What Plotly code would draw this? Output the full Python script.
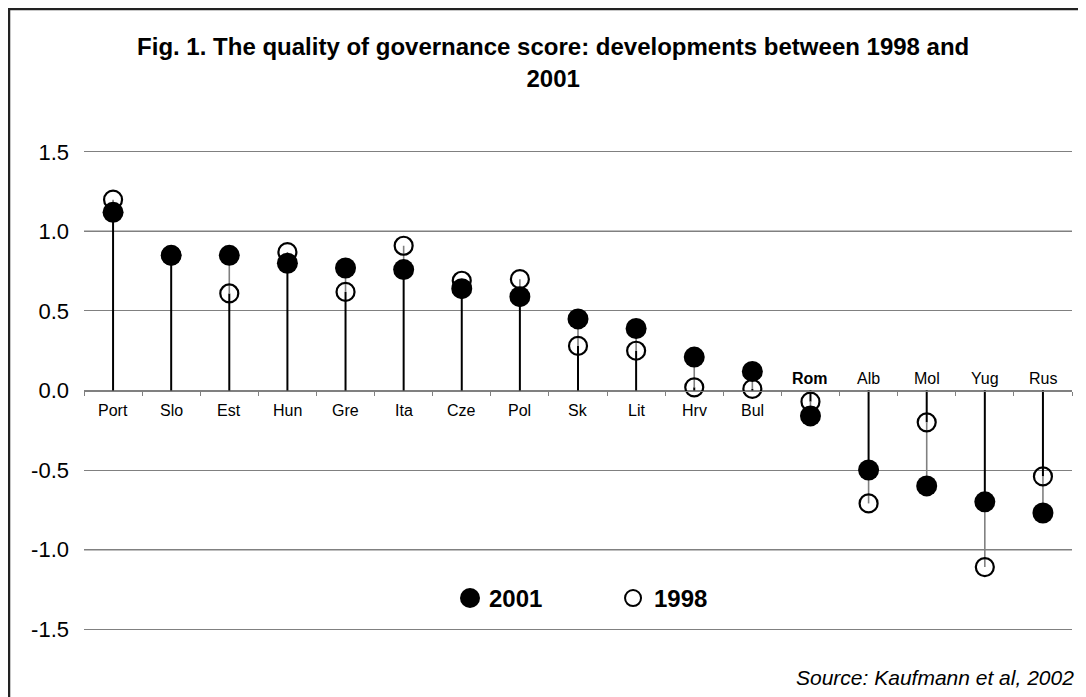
import plotly.graph_objects as go

# ---- data ----
categories = ["Port", "Slo", "Est", "Hun", "Gre", "Ita", "Cze", "Pol", "Sk", "Lit",
              "Hrv", "Bul", "Rom", "Alb", "Mol", "Yug", "Rus"]
score_2001 = [1.12, 0.85, 0.85, 0.80, 0.77, 0.76, 0.64, 0.59, 0.45, 0.39,
              0.21, 0.12, -0.16, -0.50, -0.60, -0.70, -0.77]
score_1998 = [1.20, 0.85, 0.61, 0.87, 0.62, 0.91, 0.69, 0.70, 0.28, 0.25,
              0.02, 0.01, -0.07, -0.71, -0.20, -1.11, -0.54]
ytick_vals = [-1.5, -1.0, -0.5, 0.0, 0.5, 1.0, 1.5]
ytick_text = ["-1.5", "-1.0", "-0.5", "0.0", "0.5", "1.0", "1.5"]
highlight = "Rom"
title_text = "Fig. 1. The quality of governance score: developments between 1998 and<br>2001"
source_text = "Source: Kaufmann et al, 2002"

FONT = "Liberation Sans, Arial, sans-serif"

fig = go.Figure()

# stems: black from 0 to the nearer value, grey between the two values
sx, sy, gx, gy = [], [], [], []
for c, a, b in zip(categories, score_2001, score_1998):
    near, far = (a, b) if abs(a) <= abs(b) else (b, a)
    sx += [c, c, None]
    sy += [0, near, None]
    gx += [c, c, None]
    gy += [near, far, None]

fig.add_trace(go.Scatter(x=sx, y=sy, mode="lines", line=dict(color="black", width=2),
                         showlegend=False, hoverinfo="skip"))
fig.add_trace(go.Scatter(x=gx, y=gy, mode="lines", line=dict(color="#808080", width=1.6),
                         showlegend=False, hoverinfo="skip"))
fig.add_trace(go.Scatter(x=categories, y=score_1998, mode="markers", name="1998",
                         marker=dict(symbol="circle-open", size=18, color="black",
                                     line=dict(width=2.2, color="black")),
                         showlegend=False))
fig.add_trace(go.Scatter(x=categories, y=score_2001, mode="markers", name="2001",
                         marker=dict(symbol="circle", size=21, color="black",
                                     line=dict(width=0)),
                         showlegend=False))

# category labels (below the zero line for positive, above for negative)
for c, a in zip(categories, score_2001):
    txt = f"<b>{c}</b>" if c == highlight else c
    fig.add_annotation(x=c, y=0, xref="x", yref="y", text=txt, showarrow=False,
                       yanchor="middle", yshift=12 if a < 0 else -20,
                       font=dict(family=FONT, size=16, color="black"))

# gridline emphasis at +/-1 (darker in the original)
for v in [1.0, -1.0]:
    fig.add_shape(type="line", xref="paper", yref="y", x0=0, x1=1, y0=v, y1=v,
                  line=dict(color="black", width=1.3), layer="below")

# manual legend
L_Y = 0.0923
fig.add_shape(type="circle", xref="paper", yref="paper", xsizemode="pixel", ysizemode="pixel",
              xanchor=0.3907, yanchor=L_Y, x0=-10, x1=10, y0=-10, y1=10,
              fillcolor="black", line=dict(color="black", width=0))
fig.add_annotation(xref="paper", yref="paper", x=0.4079, y=L_Y, xanchor="left", yanchor="middle",
                   text="<b>2001</b>", showarrow=False,
                   font=dict(family=FONT, size=24, color="black"))
fig.add_shape(type="circle", xref="paper", yref="paper", xsizemode="pixel", ysizemode="pixel",
              xanchor=0.5557, yanchor=L_Y, x0=-8, x1=8, y0=-8, y1=8,
              fillcolor="rgba(0,0,0,0)", line=dict(color="black", width=2))
fig.add_annotation(xref="paper", yref="paper", x=0.5749, y=L_Y, xanchor="left", yanchor="middle",
                   text="<b>1998</b>", showarrow=False,
                   font=dict(family=FONT, size=24, color="black"))

# source note
fig.add_annotation(xref="paper", yref="paper", x=1.004, y=-0.0648, xanchor="right", yanchor="middle",
                   text=f"<i>{source_text}</i>", showarrow=False,
                   font=dict(family=FONT, size=21, color="black"))

# outer border
fig.add_shape(type="rect", xref="paper", yref="paper", x0=-0.0759, x1=1.05, y0=-0.15, y1=1.2495,
              line=dict(color="#222222", width=2.5), fillcolor="rgba(0,0,0,0)", layer="below")

fig.update_layout(
    width=1086, height=697,
    margin=dict(l=76, r=22, t=128, b=60),
    paper_bgcolor="white", plot_bgcolor="white",
    title=dict(text=f"<b>{title_text}</b>", xref="container", yref="container",
               x=0.502, xanchor="center", y=0.932, yanchor="middle",
               font=dict(family=FONT, size=24, color="black")),
    xaxis=dict(type="category", categoryorder="array", categoryarray=categories,
               range=[-0.5, len(categories) - 0.5], anchor="free", position=0.5,
               showline=True, linecolor="#808080", linewidth=1.2,
               ticks="outside", tickson="boundaries", ticklen=4, tickcolor="#808080",
               showticklabels=False, showgrid=False, zeroline=False),
    yaxis=dict(range=[-1.6, 1.6], tickvals=ytick_vals, ticktext=ytick_text,
               showgrid=True, gridcolor="#808080", gridwidth=1, zeroline=False,
               showline=False, ticks="", ticklabelstandoff=14,
               tickfont=dict(family=FONT, size=22, color="black")),
    showlegend=False,
)

fig.write_html("out.html")
